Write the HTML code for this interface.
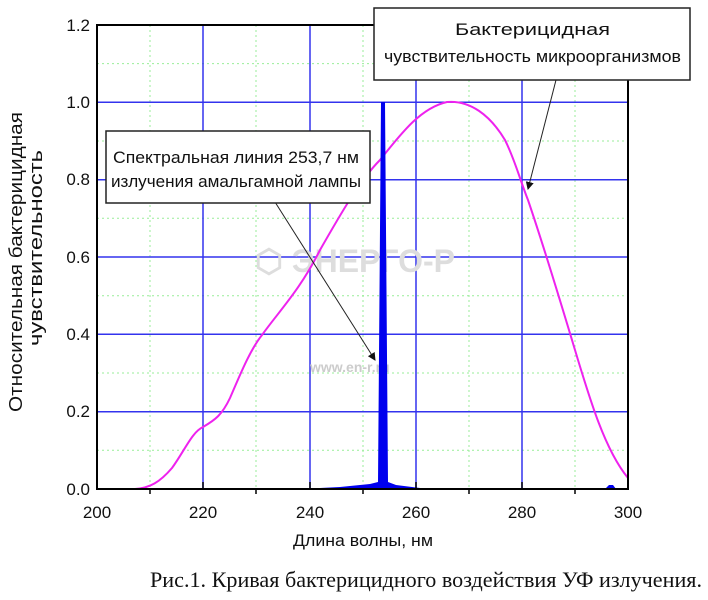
<!DOCTYPE html>
<html><head><meta charset="utf-8"><style>
body{margin:0;background:#fff;width:708px;height:595px;overflow:hidden}
text{font-family:"Liberation Sans",sans-serif}
</style></head><body>
<svg width="708" height="595" viewBox="0 0 708 595" xmlns="http://www.w3.org/2000/svg">
<defs><marker id="ah" markerWidth="8" markerHeight="8" refX="7" refY="4" orient="auto"><path d="M0,0 L8,4 L0,8 z" fill="#111"/></marker></defs>
<g stroke="#9e9" stroke-width="1" stroke-dasharray="2,3">
<line x1="150" y1="25" x2="150" y2="489"/><line x1="256" y1="25" x2="256" y2="489"/><line x1="363" y1="25" x2="363" y2="489"/><line x1="469" y1="25" x2="469" y2="489"/><line x1="575" y1="25" x2="575" y2="489"/>
<line x1="97" y1="63.6" x2="628" y2="63.6"/><line x1="97" y1="141" x2="628" y2="141"/><line x1="97" y1="218.3" x2="628" y2="218.3"/><line x1="97" y1="295.7" x2="628" y2="295.7"/><line x1="97" y1="373" x2="628" y2="373"/><line x1="97" y1="450.3" x2="628" y2="450.3"/>
</g>
<g stroke="#3333ee" stroke-width="1.5">
<line x1="203" y1="25" x2="203" y2="489"/><line x1="310" y1="25" x2="310" y2="489"/><line x1="416" y1="25" x2="416" y2="489"/><line x1="522" y1="25" x2="522" y2="489"/>
<line x1="97" y1="102.3" x2="628" y2="102.3"/><line x1="97" y1="179.7" x2="628" y2="179.7"/><line x1="97" y1="257" x2="628" y2="257"/><line x1="97" y1="334.3" x2="628" y2="334.3"/><line x1="97" y1="411.7" x2="628" y2="411.7"/>
</g>
<text x="255" y="272" font-size="32" font-weight="bold" fill="#ddd">⬡ ЭНЕРГО-Р</text>
<text x="310" y="372" font-size="14" font-weight="bold" fill="#ccc">www.en-r.ru</text>
<path d="M97,489 L135,489 C150,488 160,482 172,468 C185,450 192,432 203,427 C215,420 222,415 230,398 C240,375 250,350 262,335 C280,310 300,290 320,250 C340,215 360,180 380,160 C400,135 420,108 447,102 C470,100 490,115 505,140 C515,160 520,180 528,200 C545,250 560,300 575,350 C590,400 605,450 628,478"
 fill="none" stroke="#ee22ee" stroke-width="2"/>
<path d="M97,489 L300,489 L340,487 L370,484 L378,482 L381,102 L385,102 L388,482 L396,485 L420,488 L628,488 L628,489 Z" fill="#0000ee"/>
<path d="M605,489 L609,485 L613,485 L616,489Z" fill="#0000ee"/>
<g stroke="#000" stroke-width="2" fill="none"><rect x="97" y="25" width="531" height="464"/></g>
<g stroke="#000" stroke-width="1.5">
<line x1="203" y1="489" x2="203" y2="482"/><line x1="310" y1="489" x2="310" y2="482"/><line x1="416" y1="489" x2="416" y2="482"/><line x1="522" y1="489" x2="522" y2="482"/>
<line x1="150" y1="489" x2="150" y2="494"/><line x1="256" y1="489" x2="256" y2="494"/><line x1="363" y1="489" x2="363" y2="494"/><line x1="469" y1="489" x2="469" y2="494"/><line x1="575" y1="489" x2="575" y2="494"/>
</g>
<g font-size="17" fill="#111" text-anchor="end">
<text x="90" y="31">1.2</text><text x="90" y="108">1.0</text><text x="90" y="185">0.8</text><text x="90" y="263">0.6</text><text x="90" y="340">0.4</text><text x="90" y="417">0.2</text><text x="90" y="495">0.0</text>
</g>
<g font-size="17" fill="#111" text-anchor="middle">
<text x="97" y="518">200</text><text x="203" y="518">220</text><text x="310" y="518">240</text><text x="416" y="518">260</text><text x="522" y="518">280</text><text x="628" y="518">300</text>
</g>
<text x="293" y="546" font-size="17" fill="#111" textLength="140" lengthAdjust="spacingAndGlyphs">Длина волны, нм</text>
<text transform="translate(22,412) rotate(-90)" font-size="18" fill="#111" textLength="300" lengthAdjust="spacingAndGlyphs">Относительная бактерицидная</text>
<text transform="translate(42,346) rotate(-90)" font-size="18" fill="#111" textLength="196" lengthAdjust="spacingAndGlyphs">чувствительность</text>
<line x1="275" y1="202" x2="375" y2="360" stroke="#222" stroke-width="1" marker-end="url(#ah)"/>
<line x1="556" y1="80" x2="528" y2="189" stroke="#222" stroke-width="1" marker-end="url(#ah)"/>
<rect x="106" y="131" width="264" height="72" fill="#fff" stroke="#222" stroke-width="1.5"/>
<text x="113" y="163" font-size="17" fill="#111" textLength="246" lengthAdjust="spacingAndGlyphs">Спектральная линия 253,7 нм</text>
<text x="111" y="187" font-size="17" fill="#111" textLength="250" lengthAdjust="spacingAndGlyphs">излучения амальгамной лампы</text>
<rect x="374" y="8" width="316" height="72" fill="#fff" stroke="#222" stroke-width="1.5"/>
<text x="455" y="35" font-size="17" fill="#111" textLength="155" lengthAdjust="spacingAndGlyphs">Бактерицидная</text>
<text x="384" y="62" font-size="17" fill="#111" textLength="297" lengthAdjust="spacingAndGlyphs">чувствительность микроорганизмов</text>
<text x="150" y="587" font-size="22" fill="#111" textLength="552" lengthAdjust="spacingAndGlyphs" style="font-family:'Liberation Serif',serif">Рис.1. Кривая бактерицидного воздействия УФ излучения.</text>
</svg>
</body></html>
